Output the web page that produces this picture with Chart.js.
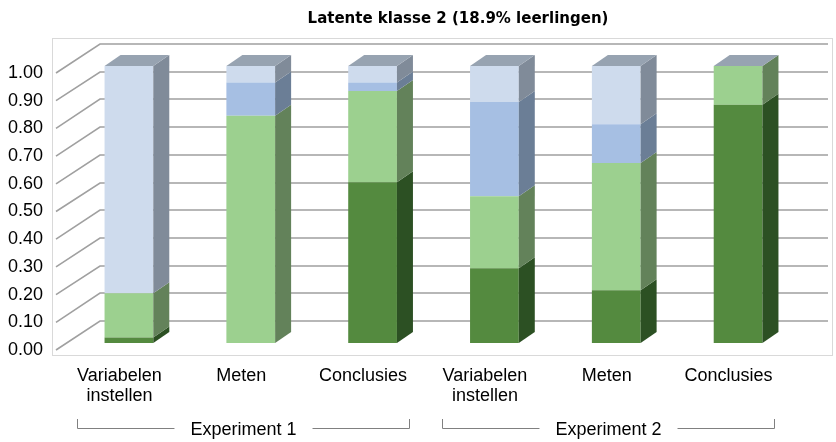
<!DOCTYPE html>
<html><head><meta charset="utf-8">
<script src="https://cdn.jsdelivr.net/npm/chart.js@4.4.1/dist/chart.umd.min.js"></script>
<style>html,body{margin:0;padding:0;background:#fff}</style>
</head><body>
<canvas id="c" width="836" height="442" style="width:836px;height:442px;display:block"></canvas>
<script>
const TITLE = 'Latente klasse 2 (18.9% leerlingen)';
const categories = [['Variabelen','instellen'],'Meten','Conclusies',['Variabelen','instellen'],'Meten','Conclusies'];
const groupLabels = ['Experiment 1','Experiment 2'];
const groupStart = [0, 3];
const groupEnd = [2, 5];
const seriesNames = ['Categorie 1','Categorie 2','Categorie 3','Categorie 4'];
const darkGreen  = [0.02, 0.00, 0.58, 0.27, 0.19, 0.86];
const lightGreen = [0.16, 0.82, 0.33, 0.26, 0.46, 0.14];
const midBlue    = [0.00, 0.12, 0.03, 0.34, 0.14, 0.00];
const lightBlue  = [0.82, 0.06, 0.06, 0.13, 0.21, 0.00];
const yTicks = [0, 0.1, 0.2, 0.3, 0.4, 0.5, 0.6, 0.7, 0.8, 0.9, 1.0];

const frontColors = ['#548a3f', '#9cd08f', '#a6bfe3', '#cedbed'];
const sideColors  = ['#2c5023', '#63825a', '#6b7e96', '#808b99'];
const topColor = '#97a3b1';
const FONT = "'Liberation Sans', Arial, sans-serif";

const threeD = {
  id: 'threeD',
  beforeDatasetsDraw(chart) {
    const {ctx, chartArea: a, scales: {y}} = chart;
    ctx.save();
    ctx.strokeStyle = '#d9d9d9';
    ctx.lineWidth = 1;
    ctx.strokeRect(Math.round(a.left - 16) + 0.5, Math.round(a.top - 28) + 0.5, Math.round(a.right + 33) - Math.round(a.left - 16), Math.round(a.bottom + 12) - Math.round(a.top - 28));
    ctx.strokeStyle = '#a0a0a0';
    ctx.lineWidth = 1.6;
    for (const v of yTicks) {
      const p = y.getPixelForValue(v);
      const fx = a.left - 12, fy = p + 7;
      const bx = fx + 44, by = Math.round(fy - 29);
      ctx.beginPath();
      ctx.moveTo(fx, fy);
      ctx.lineTo(bx, by);
      ctx.lineTo(a.right + 29, by);
      ctx.stroke();
    }
    ctx.restore();
  },
  afterDatasetsDraw(chart) {
    const {ctx} = chart;
    const DX = 16, DY = 11;
    ctx.save();
    const n = chart.data.datasets.length;
    for (let d = 0; d < n; d++) {
      const meta = chart.getDatasetMeta(d);
      meta.data.forEach(el => {
        const {x, y, base, width} = el.getProps(['x','y','base','width'], true);
        const x1 = x + width / 2;
        const top = Math.min(y, base), bot = Math.max(y, base);
        if (bot - top > 0.01) {
          ctx.fillStyle = sideColors[d];
          ctx.beginPath();
          ctx.moveTo(x1, bot); ctx.lineTo(x1 + DX, bot - DY);
          ctx.lineTo(x1 + DX, top - DY); ctx.lineTo(x1, top);
          ctx.closePath(); ctx.fill();
        }
      });
    }
    const last = chart.getDatasetMeta(n - 1);
    last.data.forEach(el => {
      const {x, y, width} = el.getProps(['x','y','width'], true);
      const x0 = x - width / 2, x1 = x + width / 2;
      ctx.fillStyle = topColor;
      ctx.beginPath();
      ctx.moveTo(x0, y); ctx.lineTo(x1, y);
      ctx.lineTo(x1 + DX, y - DY); ctx.lineTo(x0 + DX, y - DY);
      ctx.closePath(); ctx.fill();
    });
    ctx.restore();
  },
  afterDraw(chart) {
    const {ctx, scales: {x}} = chart;
    ctx.save();
    ctx.fillStyle = '#000';
    ctx.font = "bold 15px 'DejaVu Sans', sans-serif";
    ctx.textAlign = 'center';
    ctx.textBaseline = 'middle';
    ctx.fillText(TITLE, 458, 19);
    ctx.font = '18px ' + FONT;
    ctx.strokeStyle = '#808080';
    ctx.lineWidth = 1;
    groupLabels.forEach((g, i) => {
      const L = Math.round(x.getPixelForValue(groupStart[i]) - 52) + 0.5;
      const R = Math.round(x.getPixelForValue(groupEnd[i]) + 36) + 0.5;
      const c = (L + R) / 2;
      const w = ctx.measureText(g).width;
      const ly = 428.5;
      ctx.fillText(g, c, 430);
      ctx.beginPath();
      ctx.moveTo(L, 419); ctx.lineTo(L, ly); ctx.lineTo(c - w / 2 - 16, ly);
      ctx.moveTo(c + w / 2 + 16, ly); ctx.lineTo(R, ly); ctx.lineTo(R, 419);
      ctx.stroke();
    });
    ctx.restore();
  }
};

const series = [darkGreen, lightGreen, midBlue, lightBlue];
new Chart(document.getElementById('c'), {
  type: 'bar',
  data: {
    labels: categories,
    datasets: series.map((s, i) => ({
      label: seriesNames[i],
      data: s,
      backgroundColor: frontColors[i],
      borderWidth: 0,
      barPercentage: 0.4,
      categoryPercentage: 1
    }))
  },
  options: {
    responsive: false,
    animation: false,
    devicePixelRatio: 1,
    layout: {padding: {left: 6, right: 37, top: 66, bottom: 0}},
    plugins: {legend: {display: false}, title: {display: false}, tooltip: {enabled: false}},
    scales: {
      x: {
        stacked: true,
        grid: {display: false},
        border: {display: false},
        ticks: {
          color: '#000', font: {family: FONT, size: 18, lineHeight: 1.1},
          padding: 15, labelOffset: -9.5, autoSkip: false, maxRotation: 0
        },
        afterFit: s => { s.height = 99; }
      },
      y: {
        stacked: true,
        min: 0, max: 1,
        grid: {display: false},
        border: {display: false},
        ticks: {
          stepSize: 0.1, color: '#000', font: {family: FONT, size: 18},
          padding: 17, labelOffset: 7,
          callback: v => Number(v).toFixed(2)
        },
        afterFit: s => { s.width = 62; }
      }
    }
  },
  plugins: [threeD]
});
</script>
</body></html>
